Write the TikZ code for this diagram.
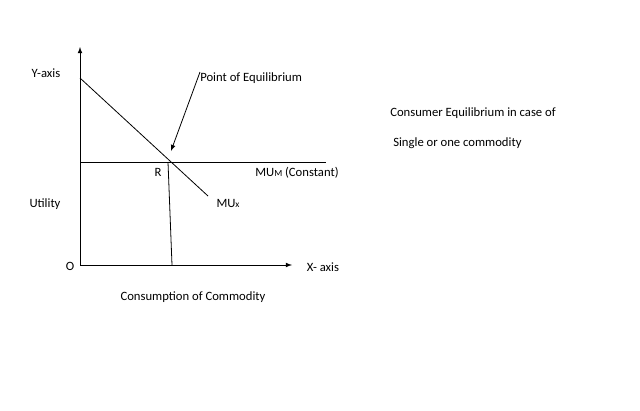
\documentclass[tikz,border=0pt]{standalone}
\usepackage{fontspec}
\setmainfont{Carlito}
\begin{document}
\begin{tikzpicture}[x=0.75pt,y=-0.75pt,
  lbl/.style={inner sep=0pt,font=\fontsize{9.5}{11}\selectfont},
  ln/.style={line width=0.6pt},
  ar/.style={ln,-latex}]
\useasboundingbox (0,0) rectangle (640,411);
\coordinate (O) at (80,265);
\coordinate (Ytop) at (80,47);
\coordinate (Xend) at (292,265);
\draw[ar] (O) -- (Ytop);
\draw[ar] (O) -- (Xend);
\coordinate (D1) at (80,78);
\coordinate (D2) at (208,196);
\draw[ln] (D1) -- (D2);
\coordinate (H1) at (80,162);
\coordinate (H2) at (326,162);
\draw[ln] (H1) -- (H2);
\coordinate (R) at (168,162);
\coordinate (Rb) at (172,265);
\draw[ln] (R) -- (Rb);
\coordinate (P) at (200,72);
\coordinate (Pt) at (171,151);
\draw[ar] (P) -- (Pt);
\node[lbl,anchor=west] (pe) at (200,78) {Point of Equilibrium};
\node[lbl] (ya) at (46,73) {Y-axis};
\node[lbl] (ut) at (45,204) {Utility};
\node[lbl] (o) at (70,266) {O};
\node[lbl] (xa) at (323,267) {X- axis};
\node[lbl] (cc) at (193,297) {Consumption of Commodity};
\node[lbl] (mux) at (228,203) {MU{\fontsize{7}{8}\selectfont x}};
\node[lbl] (mum) at (297,173) {MU{\fontsize{7}{8}\selectfont M} (Constant)};
\node[lbl] (r) at (158,172) {R};
\node[lbl,anchor=west] (c1) at (390,113) {Consumer Equilibrium in case of};
\node[lbl,anchor=west] (c2) at (393,143) {Single or one commodity};
\end{tikzpicture}
\end{document}
